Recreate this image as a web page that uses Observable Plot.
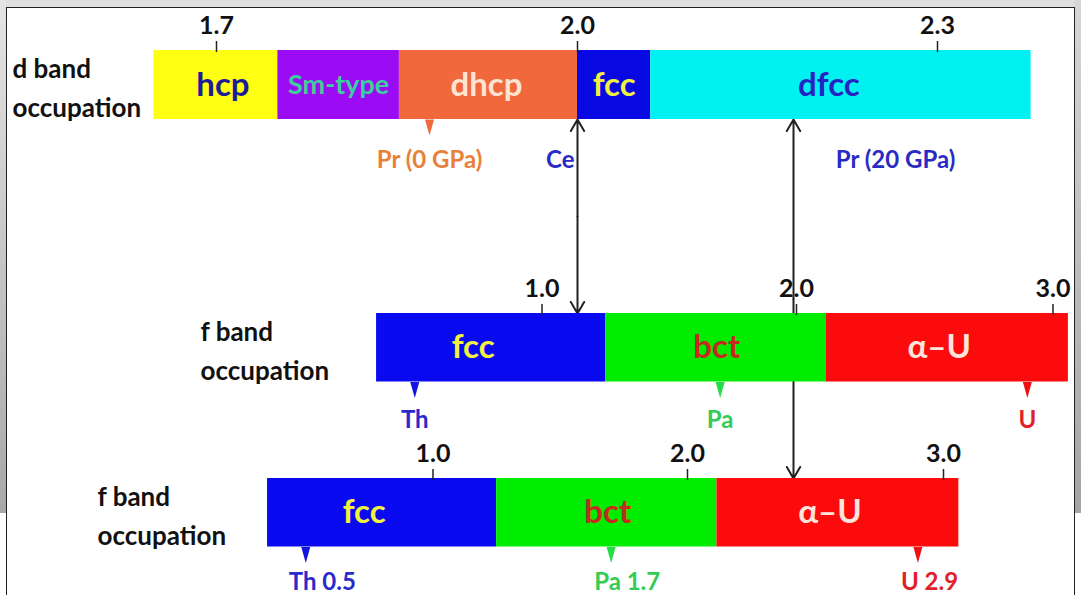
<!DOCTYPE html>
<html><head><meta charset="utf-8">
<script src="https://cdn.jsdelivr.net/npm/d3@7"></script>
<script src="https://cdn.jsdelivr.net/npm/@observablehq/plot@0.6"></script>
<style>
html,body{margin:0;padding:0;background:#fff;}
#wrap{position:relative;width:1081px;height:595px;overflow:hidden;background:#fff;font-family:Lato,"Open Sans",sans-serif;}
#ftop{position:absolute;left:0;top:0;width:1081px;height:7px;background:#e0e0e0;}
#fleft{position:absolute;left:0;top:0;width:6px;height:513px;background:linear-gradient(#e4e4e4,#a8a8a8);}
#fright{position:absolute;left:1074px;top:0;width:7px;height:513px;background:linear-gradient(#d6d6d6,#a4a4a4);}
#panel{position:absolute;left:6px;top:7px;width:1069px;height:600px;border:1.5px solid #222;border-bottom:none;box-sizing:border-box;background:#fff;}
.layer{position:absolute;left:0;top:0;width:1081px;height:595px;}
.layer svg{overflow:visible;}
</style>
</head><body>
<div id="wrap">
  <div id="ftop"></div><div id="fleft"></div><div id="fright"></div><div id="panel"></div>
  <div class="layer" id="L1"></div>
  <div class="layer" id="L2"></div>
  <div class="layer" id="L3"></div>
</div>
<script>
// ---------- data ----------
// d band occupation (top bar)
const dTickValues = [1.7, 2.0, 2.3];
const dTickLabels = ["1.7", "2.0", "2.3"];
const dPhases = ["hcp", "Sm-type", "dhcp", "fcc", "dfcc"];
const dPhaseStart = [1.648, 1.751, 1.852, 2.0, 2.061];
const dPhaseEnd = [1.751, 1.852, 2.0, 2.061, 2.378];
const dMarkerLabels = ["Pr (0 GPa)"];
const dMarkerValues = [1.877];
const ceLabel = "Ce";
const ceValue = 2.0;
const pr20Label = "Pr (20 GPa)";
const pr20Value = 2.265;

// f band occupation (middle and bottom bars)
const fTickValues = [1.0, 2.0, 3.0];
const fTickLabels = ["1.0", "2.0", "3.0"];
const fPhases = ["fcc", "bct", "α–U"];
const fPhaseStart = [0.35, 1.25, 2.115];
const fPhaseEnd = [1.25, 2.115, 3.06];
const fElements = ["Th", "Pa", "U"];
const fElementValues = [0.5, 1.7, 2.9];
const fElementLabelsLower = ["Th 0.5", "Pa 1.7", "U 2.9"];

// correspondence arrows: d-band value -> target f bar
const linkDValues = [2.0, 2.18];
const linkTargets = ["f1", "f2"];

// ---------- styles ----------
const dFill = {"hcp": "#ffff12", "Sm-type": "#9b0cf4", "dhcp": "#f0683c", "fcc": "#0808e2", "dfcc": "#00f1f1"};
const dText = {"hcp": "#1c1c98", "Sm-type": "#3ccf9e", "dhcp": "#fde3d2", "fcc": "#f0f042", "dfcc": "#2424c4"};
const dLabelDx = {"hcp": 7, "Sm-type": 0, "dhcp": -2, "fcc": 0, "dfcc": -12};
const fFill = {"fcc": "#0a0af0", "bct": "#00ec00", "α–U": "#fb0b0b"};
const fText = {"fcc": "#f2f23e", "bct": "#c42a1e", "α–U": "#ffe4dc"};
const fLabelDx = {"fcc": -18, "bct": 1, "α–U": -8};
const markFill = {"Pr (0 GPa)": "#f0683c", "Th": "#1414e0", "Pa": "#22dd44", "U": "#ee1010"};
const markText = {"Pr (0 GPa)": "#e8803a", "Th": "#2a2acc", "Pa": "#33cc55", "U": "#e0202a"};
const noteBlue = "#2a2ac4";

// layout (pixels)
const bars = {
  d:  {top: 50,  bottom: 119,   range: [216, 577, 937],      title: "d band\noccupation", titleX: 12},
  f1: {top: 313, bottom: 381.5, range: [541.5, 796, 1052.5], title: "f band\noccupation", titleX: 200},
  f2: {top: 478, bottom: 546.5, range: [432.5, 687, 943],    title: "f band\noccupation", titleX: 97}
};
const FONT = "Lato, 'Open Sans', sans-serif";

function band(key, tickValues, tickLabels, segs, fills, texts, extraMarks) {
  const b = bars[key];
  const H = b.bottom - b.top;
  return Plot.plot({
    width: 1081, height: 595,
    marginLeft: 0, marginRight: 0, marginTop: 0, marginBottom: 0,
    style: {background: "transparent", fontFamily: FONT, overflow: "visible"},
    x: {type: "linear", domain: tickValues, range: b.range, axis: null},
    y: {type: "linear", domain: [0, 1], range: [b.bottom, b.bottom - 1], axis: null},
    color: {type: "identity"},
    marks: [
      ...(extraMarks.under || []),
      Plot.rect(segs, {x1: "start", x2: "end", y1: 0, y2: H, fill: d => fills[d.name], inset: 0}),
      Plot.text(segs, {x: d => (d.start + d.end) / 2, y: H / 2, text: "name",
        fill: d => texts[d.name], fontWeight: "bold", fontSize: d => d.name === "Sm-type" ? 27 : 33}),
      Plot.ruleX(tickValues, {x: d => d, y1: H - 2, y2: H + 9, stroke: "#222", strokeWidth: 1.5}),
      Plot.text(tickValues, {x: d => d, y: H + 25, text: (d, i) => tickLabels[i],
        fill: "#111", fontWeight: "bold", fontSize: 25}),
      Plot.text([b.title], {frameAnchor: "left", y: H / 2, dx: b.titleX, textAnchor: "start",
        lineHeight: 1.5, fill: "#111", fontWeight: "bold", fontSize: 26}),
      ...(extraMarks.over || [])
    ]
  });
}

// apply per-label horizontal nudges after render (style only)
function nudgeLabels(svg, names, labelDx) {
  svg.querySelectorAll("text").forEach(t => {
    const name = t.textContent;
    if (names.includes(name) && labelDx[name]) {
      const cur = t.getAttribute("transform") || "";
      t.setAttribute("transform", cur + ` translate(${labelDx[name]},0)`);
    }
  });
}

// ---------- top bar ----------
const dSegs = dPhases.map((name, i) => ({name, start: dPhaseStart[i], end: dPhaseEnd[i]}));
const dMarks = dMarkerLabels.map((label, i) => ({label, value: dMarkerValues[i]}));
const links = linkDValues.map((value, i) => ({value, drop: bars[linkTargets[i]].top - bars.d.bottom}));

const p1 = band("d", dTickValues, dTickLabels, dSegs, dFill, dText, {
  under: [
    Plot.arrow(links, {x1: "value", x2: "value", y1: d => -d.drop / 2, y2: 0,
      stroke: "#222", strokeWidth: 2, headLength: 10, headAngle: 60}),
    Plot.arrow(links, {x1: "value", x2: "value", y1: d => -d.drop / 2, y2: d => -d.drop,
      stroke: "#222", strokeWidth: 2, headLength: 10, headAngle: 60})
  ],
  over: [
    Plot.vector(dMarks, {x: "value", y: 0, length: 16, r: 4.5, rotate: 180, anchor: "start",
      shape: "spike", fill: d => markFill[d.label], stroke: "none"}),
    Plot.text(dMarks, {x: "value", y: -41, text: "label", fill: d => markText[d.label],
      fontWeight: "bold", fontSize: 24}),
    Plot.text([ceLabel], {x: () => ceValue, y: -41, text: d => d, fill: noteBlue,
      fontWeight: "bold", fontSize: 24, textAnchor: "end", dx: -3}),
    Plot.text([pr20Label], {x: () => pr20Value, y: -41, text: d => d, fill: noteBlue,
      fontWeight: "bold", fontSize: 24})
  ]
});
nudgeLabels(p1, dPhases, dLabelDx);
document.getElementById("L1").append(p1);

// ---------- f bars ----------
const fSegs = fPhases.map((name, i) => ({name, start: fPhaseStart[i], end: fPhaseEnd[i]}));
const fMarks = fElements.map((el, i) => ({el, value: fElementValues[i], lower: fElementLabelsLower[i]}));

const p2 = band("f1", fTickValues, fTickLabels, fSegs, fFill, fText, {
  over: [
    Plot.vector(fMarks, {x: "value", y: 0, length: 16, r: 4.5, rotate: 180, anchor: "start",
      shape: "spike", fill: d => markFill[d.el], stroke: "none"}),
    Plot.text(fMarks, {x: "value", y: -38, text: "el", fill: d => markText[d.el],
      fontWeight: "bold", fontSize: 24})
  ]
});
nudgeLabels(p2, fPhases, fLabelDx);
document.getElementById("L2").append(p2);

const p3 = band("f2", fTickValues, fTickLabels, fSegs, fFill, fText, {
  over: [
    Plot.vector(fMarks, {x: "value", y: 0, length: 16, r: 4.5, rotate: 180, anchor: "start",
      shape: "spike", fill: d => markFill[d.el], stroke: "none"}),
    Plot.text(fMarks, {x: "value", y: -35, text: "lower", fill: d => markText[d.el],
      fontWeight: "bold", fontSize: 24, textAnchor: "start", dx: -17})
  ]
});
nudgeLabels(p3, fPhases, fLabelDx);
document.getElementById("L3").append(p3);
</script>
</body></html>
